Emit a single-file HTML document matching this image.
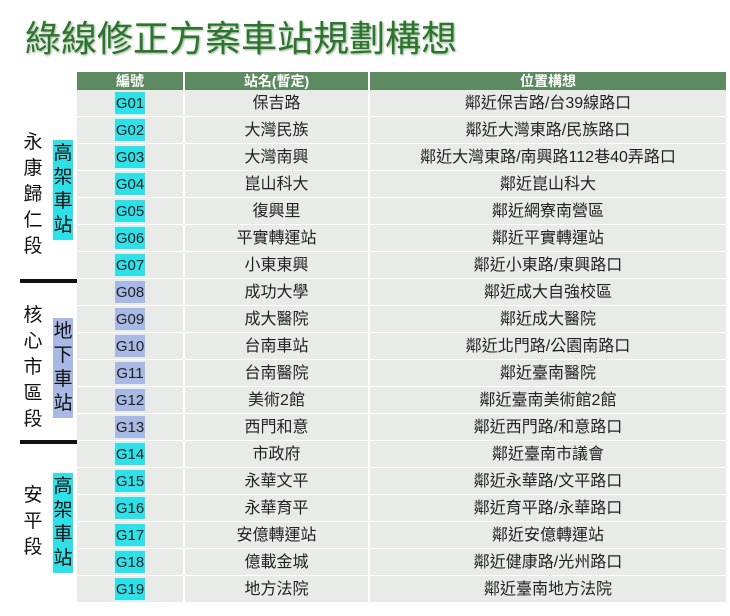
<!DOCTYPE html>
<html><head><meta charset="utf-8"><style>
body{margin:0;width:730px;height:616px;background:#fff;position:relative;overflow:hidden;font-family:"Liberation Sans","Noto Sans CJK TC",sans-serif;}
.t{position:absolute;left:25px;top:10px;font-size:36px;color:#2a762a;letter-spacing:0px;text-shadow:1px 1px 2px #9a9;white-space:nowrap;}
.hd{position:absolute;top:72px;height:18px;background:#5e8a62;color:#fff;font-size:14px;font-weight:bold;text-align:center;line-height:18px;}
.r{position:absolute;left:77px;width:649px;height:26px;background:#e8ebe8;border-bottom:1px solid #fff;}
.c{position:absolute;top:1px;height:26px;line-height:26px;text-align:center;font-size:16px;color:#222;}
.code{position:absolute;left:38px;top:2px;width:30px;height:22px;line-height:23px;text-align:center;font-size:15px;color:#222;}
.v{position:absolute;width:20px;font-size:19px;line-height:25px;text-align:center;color:#111;}
.bar{position:absolute;left:20px;width:57px;height:4px;background:#111;}
.sep{position:absolute;top:72px;width:2px;height:531px;background:#fff;}
</style></head><body>
<div class="t">綠線修正方案車站規劃構想</div>
<div class="hd" style="left:77px;width:106px">編號</div>
<div class="hd" style="left:185px;width:183px">站名(暫定)</div>
<div class="hd" style="left:370px;width:356px">位置構想</div>
<div id="rows"></div>
<div class="bar" style="top:279px"></div>
<div class="bar" style="top:440px"></div>
<div class="v" style="left:23px;top:130px;line-height:26px">永<br>康<br>歸<br>仁<br>段</div>
<div class="v" style="left:53px;top:140px;background:#2ee0e8;line-height:24px;padding:2px 0">高<br>架<br>車<br>站</div>
<div class="v" style="left:23px;top:303px;line-height:26px">核<br>心<br>市<br>區<br>段</div>
<div class="v" style="left:53px;top:318px;background:#a9b9e6;line-height:24px;padding:2px 0">地<br>下<br>車<br>站</div>
<div class="v" style="left:23px;top:483px;line-height:26px">安<br>平<br>段</div>
<div class="v" style="left:53px;top:473px;background:#2ee0e8;line-height:24px;padding:2px 0">高<br>架<br>車<br>站</div>
<script>
var d=[["保吉路","鄰近保吉路/台39線路口"],["大灣民族","鄰近大灣東路/民族路口"],["大灣南興","鄰近大灣東路/南興路112巷40弄路口"],["崑山科大","鄰近崑山科大"],["復興里","鄰近網寮南營區"],["平實轉運站","鄰近平實轉運站"],["小東東興","鄰近小東路/東興路口"],["成功大學","鄰近成大自強校區"],["成大醫院","鄰近成大醫院"],["台南車站","鄰近北門路/公園南路口"],["台南醫院","鄰近臺南醫院"],["美術2館","鄰近臺南美術館2館"],["西門和意","鄰近西門路/和意路口"],["市政府","鄰近臺南市議會"],["永華文平","鄰近永華路/文平路口"],["永華育平","鄰近育平路/永華路口"],["安億轉運站","鄰近安億轉運站"],["億載金城","鄰近健康路/光州路口"],["地方法院","鄰近臺南地方法院"]];
var h="";
d.forEach(function(x,i){var n=i+1;var col=(n>=8&&n<=13)?"#a9b9e6":"#2ee0e8";
h+='<div class="r" style="top:'+(90+i*27)+'px"><div class="code" style="background:'+col+'">G'+(n<10?"0":"")+n+'</div><div class="c" style="left:108px;width:183px">'+x[0]+'</div><div class="c" style="left:293px;width:356px">'+x[1]+'</div></div>';});
h+='<div class="sep" style="left:183px"></div><div class="sep" style="left:368px"></div>';
document.getElementById("rows").innerHTML=h;
</script>
</body></html>
